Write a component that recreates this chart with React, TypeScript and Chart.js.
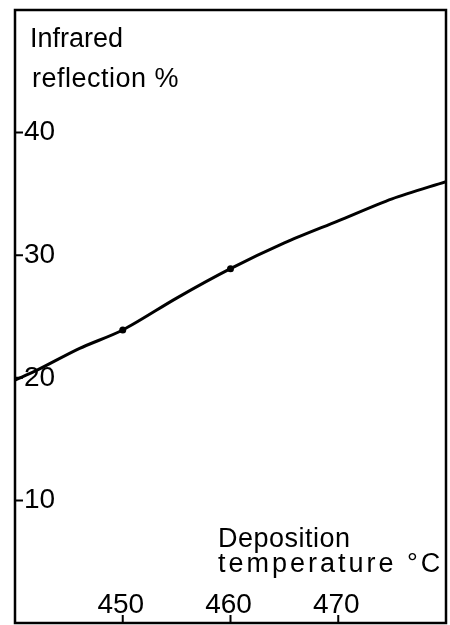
import React, { useEffect, useRef } from "react";
import { Chart, registerables } from "chart.js";

Chart.register(...registerables);

const temperatures = [440, 442, 446, 450, 455, 460, 465, 470, 475, 480];
const reflection = [19.8, 20.6, 22.4, 23.9, 26.5, 28.9, 31.0, 32.8, 34.6, 36.0];
const markedTemps = [450, 460];
const xTickValues = [450, 460, 470];
const yTickValues = [10, 20, 30, 40];
const yTitleLines = ["Infrared", "reflection %"];
const xTitleLines = ["Deposition", "temperature °C"];

const FONT = '"Liberation Sans", Arial, sans-serif';

const framePlugin = {
  id: "frame",
  afterDraw(chart: any) {
    const { ctx, chartArea: a, scales } = chart;
    ctx.save();
    ctx.strokeStyle = "#000";
    ctx.lineWidth = 2.5;
    ctx.strokeRect(a.left, a.top, a.right - a.left, a.bottom - a.top);
    ctx.lineWidth = 2;
    ctx.beginPath();
    for (const v of yTickValues) {
      const y = scales.y.getPixelForValue(v);
      ctx.moveTo(a.left, y);
      ctx.lineTo(a.left + 8, y);
    }
    for (const v of xTickValues) {
      const x = scales.x.getPixelForValue(v);
      ctx.moveTo(x, a.bottom);
      ctx.lineTo(x, a.bottom - 8);
    }
    ctx.stroke();
    ctx.fillStyle = "#000";
    ctx.font = `28px ${FONT}`;
    ctx.textAlign = "center";
    ctx.textBaseline = "alphabetic";
    for (const v of xTickValues) {
      const x = scales.x.getPixelForValue(v);
      ctx.fillText(String(v), x - 2, a.bottom - 10);
    }
    ctx.textAlign = "left";
    ctx.font = `27px ${FONT}`;
    ctx.fillText(yTitleLines[0], a.left + 15, a.top + 37);
    ctx.letterSpacing = "0.5px";
    ctx.fillText(yTitleLines[1], a.left + 17, a.top + 77);
    ctx.fillText(xTitleLines[0], a.left + 203, a.bottom - 76);
    ctx.letterSpacing = "3px";
    ctx.fillText(xTitleLines[1], a.left + 203, a.bottom - 51);
    ctx.letterSpacing = "0px";
    ctx.restore();
  },
};

export default function App() {
  const canvasRef = useRef<HTMLCanvasElement | null>(null);

  useEffect(() => {
    if (!canvasRef.current) return;
    const chart = new Chart(canvasRef.current, {
      type: "line",
      data: {
        datasets: [
          {
            data: temperatures.map((t, i) => ({ x: t, y: reflection[i] })),
            borderColor: "#000",
            borderWidth: 3,
            tension: 0.3,
            pointRadius: (c: any) => (markedTemps.includes(temperatures[c.dataIndex]) ? 3.5 : 0),
            pointBackgroundColor: "#000",
            pointBorderWidth: 0,
            fill: false,
          },
        ],
      },
      options: {
        animation: false,
        responsive: true,
        maintainAspectRatio: false,
        layout: { padding: { left: 15, top: 10, right: 4, bottom: 2 } },
        plugins: { legend: { display: false }, tooltip: { enabled: false } },
        scales: {
          x: {
            type: "linear",
            min: 440,
            max: 480,
            display: false,
          },
          y: {
            type: "linear",
            min: 0,
            max: 50,
            afterBuildTicks: (scale: any) => {
              scale.ticks = yTickValues.map((v) => ({ value: v }));
            },
            afterFit: (scale: any) => {
              scale.width = 0;
              scale.paddingTop = 0;
              scale.paddingBottom = 0;
              scale.paddingLeft = 0;
              scale.paddingRight = 0;
            },
            grid: { display: false, drawTicks: false },
            border: { display: false },
            ticks: {
              mirror: true,
              padding: 9,
              color: "#000",
              font: { family: FONT, size: 28 },
            },
          },
        },
      },
      plugins: [framePlugin],
    });
    return () => chart.destroy();
  }, []);

  return (
    <div style={{ position: "fixed", left: 0, top: 0, width: 450, height: 625, background: "#fff" }}>
      <canvas ref={canvasRef} />
    </div>
  );
}
